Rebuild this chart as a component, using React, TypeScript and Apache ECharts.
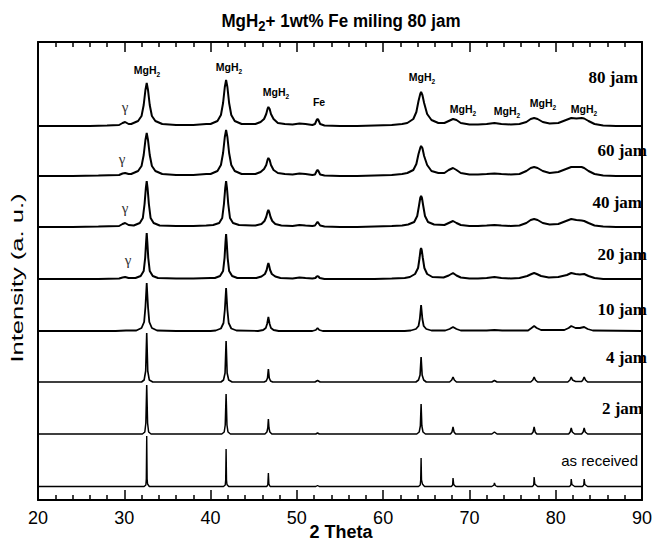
import React, { useEffect, useRef } from "react";
import * as echarts from "echarts";

// Trace names (bottom to top) and vertical offsets (a.u.)
const TRACE_NAMES = ["as received", "2 jam", "4 jam", "10 jam", "20 jam", "40 jam", "60 jam", "80 jam"];
const OFFSETS = [13, 65, 117, 168, 220, 272, 323, 373];

// [2theta, intensity above trace baseline]
const T80: number[][] = [[20,1],[23,1],[26,1],[28,1.5],[29.4,2],[29.8,4],[30.1,5],[30.5,3],
[30.8,3],[31.6,6],[32.0,11],[32.25,22],[32.45,37],[32.6,44],[32.75,37],[32.95,22],[33.2,11],[33.6,6],[34.4,3],
[36,2],[38,2],[39.5,3],
[40.0,3],[40.8,6],[41.2,12],[41.45,24],[41.65,40],[41.8,47],[41.95,40],[42.15,24],[42.4,12],[42.8,6],[43.6,3],
[44.8,3],
[45.2,3],[45.8,5],[46.2,8],[46.45,13],[46.6,18],[46.7,20],[46.85,18],[47.0,13],[47.3,8],[47.8,4],[48.6,3],
[49.5,2.5],[50.3,3.5],[51,3],[51.8,2],
[52.1,3],[52.3,7],[52.4,8],[52.5,7],[52.7,3],[53.2,1.5],
[55,1],[57,1],[59,1.5],[61,2],[62.2,3],
[62.8,4],[63.5,8],[63.85,15],[64.1,26],[64.3,33],[64.4,35],[64.55,32],[64.75,24],[65.1,13],[65.6,7],[66.4,4],
[67.1,4],[67.6,6],[68.1,8],[68.5,7],[69,4],[70,2.5],[71,2.5],[72,3],[72.9,4],[73.7,3],[74.8,2.5],[75.8,3],[76.6,5],[77.1,8],[77.5,9],[77.9,8],[78.5,5],[79.3,3.5],[80.3,4],[81.2,7],[81.8,9],[82.4,8.5],[83.0,9],[83.3,8.5],[83.8,6],[84.5,3],[85.5,1.5],[87,1],[90,1]];

const T60: number[][] = [[20,1],[24,1],[27,1.5],[29.4,2],[29.8,3.5],[30.1,4],[30.5,3],
[30.8,3],[31.6,6],[32.0,11],[32.25,22],[32.45,37],[32.6,44],[32.75,37],[32.95,22],[33.2,11],[33.6,6],[34.4,3],
[36,2],[38,2],[39.5,3],
[40.0,3],[40.8,6],[41.2,12],[41.45,24],[41.65,40],[41.8,47],[41.95,40],[42.15,24],[42.4,12],[42.8,6],[43.6,3],
[44.8,3],
[45.2,3],[45.8,5],[46.2,8],[46.45,12],[46.6,17],[46.7,19],[46.85,17],[47.0,12],[47.3,7],[47.8,4],[48.6,3],
[49.5,2.5],[50.3,3.5],[51,3],[51.8,2],
[52.1,2.5],[52.3,6],[52.4,7],[52.5,6],[52.7,2.5],[53.2,1.5],
[55,1],[57,1],[59,1.5],[61,2],[62.2,3],
[62.8,4],[63.5,7],[63.85,13],[64.1,23],[64.3,29],[64.4,31],[64.55,29],[64.75,21],[65.1,12],[65.6,6],[66.4,4],
[67.1,4],[67.6,7],[68.1,9],[68.5,7],[69,4],[70,2.5],[71,2.5],[72,3],[72.9,3.5],[73.7,3],[74.8,2.5],[75.8,3],[76.6,6],[77.1,9],[77.5,10],[77.9,9],[78.5,6],[79.3,4],[80.3,5],[81.2,8],[81.8,10],[82.4,10],[83.0,10],[83.3,9],[83.8,6],[84.5,3],[85.5,1.5],[87,1],[90,1]];

const T40: number[][] = [[20,1],[24,1],[27,1.5],[29.4,2],[29.8,4],[30.1,5],[30.5,3],
[31.1,2.5],[31.8,5],[32.15,10],[32.35,24],[32.5,40],[32.6,47],[32.7,40],[32.85,24],[33.05,10],[33.4,5],[34.1,2.5],
[36,2],[38,2],[39.5,2.5],
[40.3,3],[41.0,5],[41.35,10],[41.55,24],[41.7,40],[41.8,47],[41.9,40],[42.05,24],[42.25,10],[42.6,5],[43.3,3],
[44.8,2.5],
[45.2,2.5],[45.9,4],[46.25,7],[46.45,11],[46.6,16],[46.7,18],[46.8,16],[46.95,11],[47.15,7],[47.5,4],[48.2,2.5],
[49.5,2],[50.3,3],[51,2.5],[51.8,2],
[52.1,2.5],[52.3,5],[52.4,6],[52.5,5],[52.7,2.5],[53.2,1.5],
[55,1],[57,1],[59,1.5],[61,2],[62.2,2.5],
[62.9,3.5],[63.6,6],[63.95,12],[64.15,22],[64.3,30],[64.4,32],[64.5,30],[64.65,22],[64.85,12],[65.2,6],[65.9,3.5],
[67.1,3],[67.6,5],[68.1,7],[68.5,5],[69,3],[70,2],[71,2],[72,2.5],[72.9,3],[73.7,2.5],[74.8,2],[75.8,2.5],[76.6,5],[77.1,8],[77.5,9],[77.9,8],[78.5,5],[79.3,3.5],[80.3,4],[81.2,7],[81.8,9],[82.4,8],[83.0,7.5],[83.3,7],[83.8,5],[84.5,2.5],[85.5,1.5],[87,1],[90,1]];

const T20: number[][] = [[20,1],[24,1],[27,1],[29.4,1.5],[29.8,2.5],[30.1,3],[30.5,2],
[31.3,2],[31.9,4],[32.25,9],[32.42,22],[32.53,38],[32.6,47],[32.67,38],[32.78,22],[32.95,9],[33.3,4],[33.9,2],
[36,1.5],[38,1.5],[40,2],
[40.5,2],[41.1,4],[41.45,9],[41.62,22],[41.73,38],[41.8,46],[41.87,38],[41.98,22],[42.15,9],[42.5,4],[43.1,2],
[45.3,2],[45.9,3.5],[46.3,6],[46.5,10],[46.63,15],[46.7,17],[46.77,15],[46.9,10],[47.1,6],[47.5,3.5],[48.1,2],
[49.5,1.5],[50.3,2.5],[51,2],[51.8,1.5],
[52.15,2],[52.3,3.5],[52.4,4],[52.5,3.5],[52.65,2],[53.2,1],
[55,1],[57,1],[59,1],[61,1.5],[62.5,2],
[63.1,3],[63.7,6],[64.05,12],[64.22,22],[64.33,30],[64.4,32],[64.47,30],[64.6,22],[64.78,12],[65.1,6],[65.7,3],
[67,2.5],[67.6,4.5],[68.1,7],[68.5,4.5],[69,2.5],[70,1.5],[71,1.5],[72,2],[72.9,3],[73.7,2],[74.8,1.5],[75.8,2],[76.7,4],[77.2,6],[77.5,7],[77.8,6],[78.3,4],[79.2,2.5],[80.3,3],[81.3,5],[81.8,7],[82.3,6],[82.8,5.5],[83.3,6],[83.8,4],[84.5,2],[85.5,1],[87,1],[90,1]];

const T10: number[][] = [[20,1],[25,1],[29,1],[30.2,1.5],[31,1.5],
[31.4,1.5],[32.0,4],[32.3,10],[32.45,25],[32.6,49],[32.75,25],[32.9,10],[33.2,4],[33.8,1.5],
[36,1],[40,1],
[40.6,1.5],[41.2,3.5],[41.5,9],[41.65,22],[41.8,44],[41.95,22],[42.1,9],[42.4,3.5],[43,1.5],
[45.5,1],[46.1,2],[46.4,4],[46.55,8],[46.7,15],[46.85,8],[47.0,4],[47.3,2],[47.9,1],
[51.8,1],[52.2,2],[52.4,4],[52.6,2],[53,1],
[58,1],[62.5,1],
[63.2,1.5],[63.8,3],[64.1,6],[64.25,13],[64.4,27],[64.55,13],[64.7,6],[65.0,3],[65.6,1.5],
[67.2,1.5],[67.7,3],[68.1,5],[68.5,3],[69,1.5],[72,1.5],[72.9,2],[73.8,1.5],[76.8,1.5],[77.2,4],[77.5,6],[77.8,4],[78.3,2],[81,2],[81.5,4],[81.8,6],[82.3,4],[82.8,4],[83.3,5],[83.7,3],[84.3,1.5],[90,1]];

const T4: number[][] = [[20,1],[32.0,1],[32.3,3],[32.48,12],[32.6,50],[32.72,12],[32.9,3],[33.3,1],
[41.2,1],[41.5,3],[41.68,10],[41.8,42],[41.92,10],[42.1,3],[42.5,1],
[46.2,1],[46.45,2],[46.6,5],[46.7,14],[46.8,5],[46.95,2],[47.2,1],
[52.1,1],[52.4,2.5],[52.7,1],
[63.8,1],[64.1,3],[64.28,8],[64.4,26],[64.52,8],[64.7,3],[65.0,1],
[67.7,1],[67.95,3],[68.1,6],[68.25,3],[68.5,1],
[72.6,1],[72.9,2.5],[73.2,1],
[77.1,1],[77.35,3],[77.5,6],[77.65,3],[77.9,1],
[81.4,1],[81.65,3],[81.8,6],[81.95,3],[82.3,1.5],
[83.0,1.5],[83.15,3],[83.3,6],[83.45,3],[83.7,1],[90,1]];

const T2: number[][] = [[20,1],[32.1,1],[32.38,3],[32.5,12],[32.6,50],[32.7,12],[32.82,3],[33.1,1],
[41.3,1],[41.58,3],[41.7,10],[41.8,41],[41.9,10],[42.02,3],[42.3,1],
[46.3,1],[46.53,3],[46.63,7],[46.7,16],[46.77,7],[46.87,3],[47.1,1],
[52.2,1],[52.4,2],[52.6,1],
[63.9,1],[64.18,3],[64.31,9],[64.4,31],[64.49,9],[64.62,3],[64.9,1],
[67.8,1],[67.98,3],[68.1,8],[68.22,3],[68.4,1],
[72.6,1],[72.9,3],[73.2,1],
[77.2,1],[77.38,3],[77.5,8],[77.62,3],[77.8,1],
[81.5,1],[81.68,3],[81.8,7],[81.92,3],[82.2,1],
[83.0,1],[83.18,3],[83.3,7],[83.42,3],[83.7,1],[90,1]];

const T0: number[][] = [[20,0.5],[32.3,0.5],[32.5,2],[32.55,8],[32.6,51],[32.65,8],[32.7,3],[32.9,0.5],
[41.5,0.5],[41.7,2],[41.75,7],[41.8,38],[41.85,7],[41.9,2.5],[42.1,0.5],
[46.5,0.5],[46.63,2],[46.7,14],[46.76,3],[46.9,0.5],
[52.2,0.5],[52.4,1.5],[52.6,0.5],
[64.1,0.5],[64.3,2],[64.35,7],[64.4,29],[64.45,7],[64.55,3],[64.8,0.5],
[67.9,0.5],[68.05,2],[68.1,9],[68.18,2.5],[68.4,0.5],
[72.6,0.5],[72.85,2],[72.9,4],[73.0,1.5],[73.2,0.5],
[77.3,0.5],[77.45,2],[77.5,10],[77.58,3],[77.9,0.5],
[81.6,0.5],[81.75,2],[81.8,8],[81.88,2.5],[82.2,0.5],
[83.1,0.5],[83.25,2],[83.3,8],[83.38,2.5],[83.7,0.5],[90,0.5]];

const TRACES = [T0, T2, T4, T10, T20, T40, T60, T80];
const LINE_WIDTHS = [1.4, 1.5, 1.6, 1.8, 2, 2, 2, 2];

const SANS = "'Liberation Sans', Arial, sans-serif";
const SERIF = "'Liberation Serif', 'Times New Roman', serif";

export default function App() {
  const ref = useRef<HTMLDivElement>(null);
  useEffect(() => {
    if (!ref.current) return;
    const chart = echarts.init(ref.current, null, { renderer: "svg" });

    const series = TRACES.map((pts, i) => ({
      type: "line",
      name: TRACE_NAMES[i],
      data: pts.map(([x, h]) => [x, h + OFFSETS[i]]),
      showSymbol: false,
      symbol: "none",
      lineStyle: { color: "#000", width: LINE_WIDTHS[i] },
      z: 3,
    }));

    const mg = (x: number, y: number) => ({
      type: "text", x, y,
      style: {
        text: "{m|MgH}{s|2}", align: "center", verticalAlign: "middle",
        rich: {
          m: { fontSize: 10.5, fontWeight: "bold", fontFamily: SANS, lineHeight: 16, fill: "#000" },
          s: { fontSize: 6.5, fontWeight: "bold", fontFamily: SANS, verticalAlign: "bottom", fill: "#000" },
        },
      },
    });
    const gamma = (x: number, y: number) => ({
      type: "text", x, y,
      style: { text: "γ", fontSize: 15, fontFamily: SERIF, fill: "#333", align: "center", verticalAlign: "middle" },
    });
    const jam = (text: string, x: number, y: number) => ({
      type: "text", x, y,
      style: { text, fontSize: 17, fontWeight: "bold", fontFamily: SERIF, fill: "#000", align: "right", verticalAlign: "middle" },
    });

    const axisCommon = {
      type: "value", min: 20, max: 90, interval: 10,
      axisLine: { show: true, onZero: false, lineStyle: { color: "#000", width: 2 } },
      axisTick: { show: true, inside: true, length: 10, lineStyle: { color: "#000", width: 1.5 } },
      minorTick: { show: true, splitNumber: 5, length: 5, lineStyle: { color: "#000", width: 1.5 } },
      splitLine: { show: false },
      minorSplitLine: { show: false },
    };

    chart.setOption({
      animation: false,
      grid: { left: 38, right: 10, top: 42, bottom: 43, containLabel: false },
      xAxis: [
        {
          ...axisCommon, position: "bottom",
          axisLabel: { show: true, fontSize: 18, fontFamily: SANS, color: "#000", margin: 9 },
        },
        { ...axisCommon, position: "top", axisLabel: { show: false } },
      ],
      yAxis: [
        { type: "value", min: 0, max: 458, position: "left", axisLine: { show: true, lineStyle: { color: "#000", width: 2 } }, axisTick: { show: false }, axisLabel: { show: false }, splitLine: { show: false } },
        { type: "value", min: 0, max: 458, position: "right", axisLine: { show: true, lineStyle: { color: "#000", width: 2 } }, axisTick: { show: false }, axisLabel: { show: false }, splitLine: { show: false } },
      ],
      series,
      graphic: [
        {
          type: "text", x: 341, y: 21, scaleY: 1.12,
          style: {
            text: "MgH{s|2}+ 1wt% Fe miling 80 jam", align: "center", verticalAlign: "middle",
            fontSize: 17, fontWeight: "bold", fontFamily: SANS, fill: "#000", lineHeight: 22,
            rich: { s: { fontSize: 13, fontWeight: "bold", fontFamily: SANS, verticalAlign: "bottom", fill: "#000" } },
          },
        },
        {
          type: "text", x: 341, y: 532,
          style: { text: "2 Theta", fontSize: 18, fontWeight: "bold", fontFamily: SANS, fill: "#000", align: "center", verticalAlign: "middle" },
        },
        {
          type: "text", x: 18, y: 278, rotation: Math.PI / 2, scaleX: 1.6,
          style: { text: "Intensity (a. u.)", fontSize: 16, fontFamily: SANS, fill: "#000", align: "center", verticalAlign: "middle" },
        },
        mg(147, 70), mg(229, 67), mg(276, 92), mg(422, 77), mg(463, 109), mg(507, 111), mg(543, 103), mg(584, 109),
        { type: "text", x: 319, y: 102, style: { text: "Fe", fontSize: 10.5, fontWeight: "bold", fontFamily: SANS, fill: "#000", align: "center", verticalAlign: "middle" } },
        gamma(125, 107), gamma(122, 159), gamma(125, 208), gamma(128, 260),
        jam("80 jam", 638, 77), jam("60 jam", 647, 150), jam("40 jam", 642, 202), jam("20 jam", 647, 254),
        jam("10 jam", 647, 309), jam("4 jam", 647, 357), jam("2 jam", 643, 408),
        { type: "text", x: 638, y: 460, style: { text: "as received", fontSize: 15, fontFamily: SANS, fill: "#000", align: "right", verticalAlign: "middle" } },
      ],
    });
    return () => chart.dispose();
  }, []);
  return <div ref={ref} style={{ width: 655, height: 543, position: "absolute", left: 0, top: 0 }} />;
}
